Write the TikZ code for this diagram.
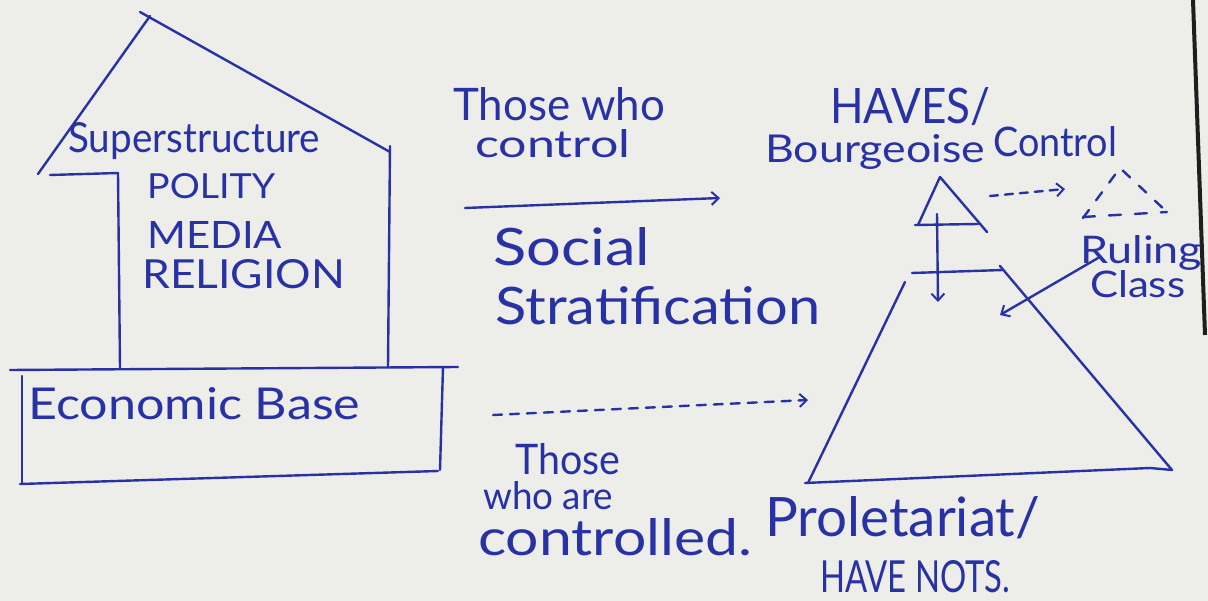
\documentclass[tikz,border=0pt]{standalone}
\usepackage{fontspec}
\usepackage{graphicx}
\setmainfont{Lato}
\usetikzlibrary{arrows.meta}
\definecolor{inkc}{RGB}{40,50,165}
\definecolor{paper}{RGB}{237,237,233}
\definecolor{edgec}{RGB}{30,30,30}
\newcommand{\fw}[3]{\resizebox{#1pt}{#2pt}{#3}}
\begin{document}
\begin{tikzpicture}[x=1pt,y=-1pt,
  ink/.style={draw=inkc,line width=2.4pt,line cap=round,line join=round},
  inkdash/.style={ink,dash pattern=on 9pt off 8pt},
  arr/.style={-{Straight Barb[length=7pt,width=13pt,line width=2pt]}},
  txt/.style={text=inkc,inner sep=0pt,anchor=base west}]
\fill[paper] (0,0) rectangle (1208,601);
\useasboundingbox (0,0) rectangle (1208,601);
% paper edge
\draw[edgec,line width=4pt] (1193,0) -- (1205,335);
% house
\draw[ink] (50,175) -- (118,173) -- (120,368);
\draw[ink] (38,174) -- (150,16);
\draw[ink] (140,12) -- (390,152);
\draw[ink] (390,146) -- (388,367);
% economic base
\draw[ink] (10,370) -- (458,367);
\draw[ink] (22,376) -- (22,484);
\draw[ink] (20,484) -- (438,471);
\draw[ink] (443,367) -- (440,470);
% texts in house
\node[txt] (sup) at (68,153) {\fw{252}{30}{Superstructure}};
\node[txt] (pol) at (147,199) {\fw{128}{25}{POLITY}};
\node[txt] (med) at (147,249) {\fw{135}{27}{MEDIA}};
\node[txt] (rel) at (142,289) {\fw{203}{29}{RELIGION}};
\node[txt] (eco) at (28,420) {\fw{332}{32}{Economic Base}};
% middle texts
\node[txt] (tw) at (453,121) {\fw{212}{33}{Those who}};
\node[txt] (ctl) at (475,158) {\fw{155}{28}{control}};
\node[txt] (soc) at (493,266) {\fw{157}{38}{Social}};
\node[txt] (str) at (495,325) {\fw{325}{38}{Stratification}};
\node[txt] (th) at (515,475) {\fw{105}{31}{Those}};
\node[txt] (wa) at (483,510) {\fw{130}{28}{who are}};
\node[txt] (cd) at (478,555) {\fw{274}{37}{controlled.}};
% right texts
\node[txt] (hv) at (830,124) {\fw{160}{36}{HAVES/}};
\node[txt] (bg) at (765,163) {\fw{220}{28}{Bourgeoise}};
\node[txt] (cl) at (993,157) {\fw{124}{30}{Control}};
\node[txt] (rl) at (1080,264) {\fw{122}{28}{Ruling}};
\node[txt] (cs) at (1090,298) {\fw{95}{27}{Class}};
\node[txt] (pr) at (765,536) {\fw{275}{40}{Proletariat/}};
\node[txt] (hn) at (820,592) {\fw{190}{32}{HAVE NOTS.}};
% arrows in middle
\coordinate (a1s) at (465,208);
\coordinate (a1e) at (720,198);
\draw[ink,arr] (a1s) -- (a1e);
\coordinate (a2s) at (493,415);
\coordinate (a2e) at (808,400);
\draw[inkdash,arr] (a2s) -- (a2e);
% small triangle
\draw[ink] (918,225) -- (940,177) -- (987,232);
\draw[ink] (915,225) -- (978,224);
\coordinate (v1) at (937,214);
\coordinate (v2) at (938,302);
\draw[ink,arr] (v1) -- (v2);
% dashed control arrow
\coordinate (c1) at (990,196);
\coordinate (c2) at (1065,189);
\draw[ink,dash pattern=on 8pt off 7pt,arr] (c1) -- (c2);
% dashed triangle
\draw[ink,dash pattern=on 10pt off 12pt] (1083,218) -- (1120,168) -- (1167,212);
\draw[ink,dash pattern=on 12pt off 14pt] (1083,217) -- (1167,212);
% ruling class arrow
\coordinate (r1) at (1098,258);
\coordinate (r2) at (1000,315);
\draw[ink,arr] (r1) -- (r2);
% trapezoid
\draw[ink] (912,273) -- (1003,270);
\draw[ink] (905,282) -- (808,483);
\draw[ink] (1000,266) -- (1172,470);
\draw[ink] (805,483) -- (1150,468) -- (1172,470);
\end{tikzpicture}
\end{document}
